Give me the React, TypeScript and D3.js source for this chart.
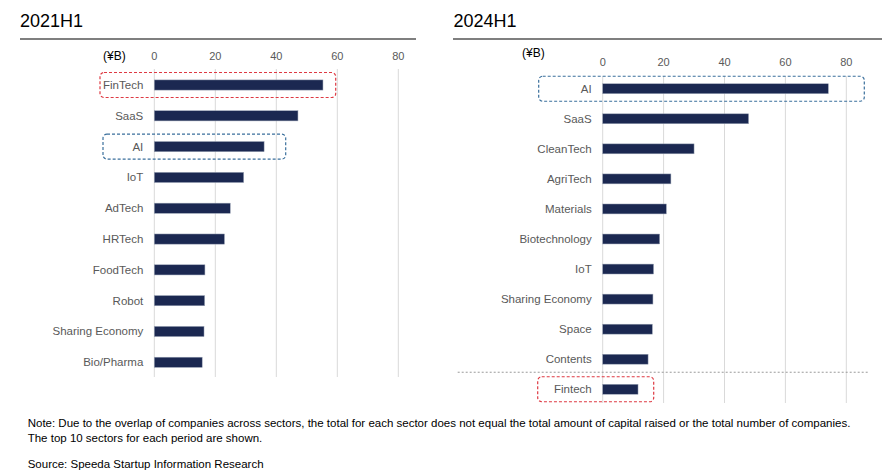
import React from "react";
import * as d3 from "d3";

const sectors2021 = ["FinTech", "SaaS", "AI", "IoT", "AdTech", "HRTech", "FoodTech", "Robot", "Sharing Economy", "Bio/Pharma"];
const values2021 = [55.3, 47.1, 36.0, 29.3, 24.9, 23.0, 16.6, 16.5, 16.3, 15.7];

const sectors2024 = ["AI", "SaaS", "CleanTech", "AgriTech", "Materials", "Biotechnology", "IoT", "Sharing Economy", "Space", "Contents", "Fintech"];
const values2024 = [74.1, 47.9, 30.0, 22.4, 20.9, 18.7, 16.7, 16.5, 16.3, 14.9, 11.6];

const ticks = [0, 20, 40, 60, 80];

const noteLines = [
    "Note: Due to the overlap of companies across sectors, the total for each sector does not equal the total amount of capital raised or the total number of companies.",
    "The top 10 sectors for each period are shown.",
];
const sourceText = "Source: Speeda Startup Information Research";

const FONT = "'Liberation Sans', Arial, sans-serif";
const BAR = "#1b2851";
const GRID = "#d9d9d9";
const LABEL = "#595959";
const RED = "#de3a43";
const BLUE = "#3a6f9c";

type Box = { name: string; color: string; left: number; right: number };

type PanelProps = {
    title: string;
    titleX: number;
    ruleX: [number, number];
    names: string[];
    values: number[];
    xRange: [number, number];
    yRange: [number, number];
    gridY: [number, number];
    tickY: number;
    unitX: number;
    unitY: number;
    boxes: Box[];
    separatorAfter?: number;
    separatorX?: [number, number];
};

const Panel = (p: PanelProps) => {
    const x = d3.scaleLinear().domain([0, 80]).range(p.xRange);
    const y = d3.scaleBand<string>().domain(p.names).range(p.yRange).paddingInner(0.67).paddingOuter(0.335);
    const step = y.step();

    return (
        <g fontFamily={FONT}>
            <text x={p.titleX} y={27} fontSize={18} fill="#000">{p.title}</text>
            <line x1={p.ruleX[0]} x2={p.ruleX[1]} y1={39} y2={39} stroke="#7f7f7f" strokeWidth={2} />

            {/* grid */}
            {ticks.map(t => (
                <g key={t}>
                    <line x1={x(t)} x2={x(t)} y1={p.gridY[0]} y2={p.gridY[1]} stroke={GRID} strokeWidth={1} />
                    <text x={x(t)} y={p.tickY} fontSize={11} fill={LABEL} textAnchor="middle">{t}</text>
                </g>
            ))}
            <text x={p.unitX} y={p.unitY} fontSize={12} fill="#000">(¥B)</text>

            {/* bars */}
            {p.names.map((n, i) => {
                const cy = (y(n) as number) + y.bandwidth() / 2;
                return (
                    <g key={n}>
                        <rect x={x(0)} y={y(n)} width={x(p.values[i]) - x(0)} height={y.bandwidth()}
                            fill={BAR} stroke="#9aa3b5" strokeWidth={0.5} />
                        <text x={x(0) - 11} y={cy + 4} fontSize={11.5} fill={LABEL} textAnchor="end">{n}</text>
                    </g>
                );
            })}

            {p.separatorAfter !== undefined && p.separatorX && (() => {
                const sy = (y(p.names[p.separatorAfter]) as number) + y.bandwidth() + (step - y.bandwidth()) / 2 - 2;
                return <line x1={p.separatorX[0]} x2={p.separatorX[1]} y1={sy} y2={sy}
                    stroke="#9a9a9a" strokeWidth={1} strokeDasharray="2,2" />;
            })()}

            {p.boxes.map(b => {
                const cy = (y(b.name) as number) + y.bandwidth() / 2;
                return (
                    <rect key={b.name} x={b.left} y={cy - 12.5} width={b.right - b.left} height={25} rx={4}
                        fill="none" stroke={b.color} strokeWidth={1.2} strokeDasharray="3,2" />
                );
            })}
        </g>
    );
};

export default function App() {
    return (
        <svg width={882} height={475} style={{ display: "block", position: "absolute", left: 0, top: 0 }}>
            <rect width={882} height={475} fill="#fff" />
            <Panel
                title="2021H1"
                titleX={20}
                ruleX={[20, 416]}
                names={sectors2021}
                values={values2021}
                xRange={[154.3, 398.3]}
                yRange={[69.6, 377.7]}
                gridY={[69, 377]}
                tickY={60}
                unitX={103}
                unitY={60}
                boxes={[
                    { name: "FinTech", color: RED, left: 100, right: 335.7 },
                    { name: "AI", color: BLUE, left: 103, right: 285.7 },
                ]}
            />
            <Panel
                title="2024H1"
                titleX={453.5}
                ruleX={[453, 882]}
                names={sectors2024}
                values={values2024}
                xRange={[602.7, 846.3]}
                yRange={[73.7, 404.3]}
                gridY={[76, 403]}
                tickY={65.5}
                unitX={522}
                unitY={57}
                boxes={[
                    { name: "AI", color: BLUE, left: 538.7, right: 864.3 },
                    { name: "Fintech", color: RED, left: 537.7, right: 653.7 },
                ]}
                separatorAfter={9}
                separatorX={[457.7, 867.7]}
            />
            <g fontFamily={FONT} fontSize={11.5} fill="#000">
                <text x={27.7} y={427}>{noteLines[0]}</text>
                <text x={27.7} y={441.5}>{noteLines[1]}</text>
                <text x={27.7} y={468}>{sourceText}</text>
            </g>
        </svg>
    );
}
